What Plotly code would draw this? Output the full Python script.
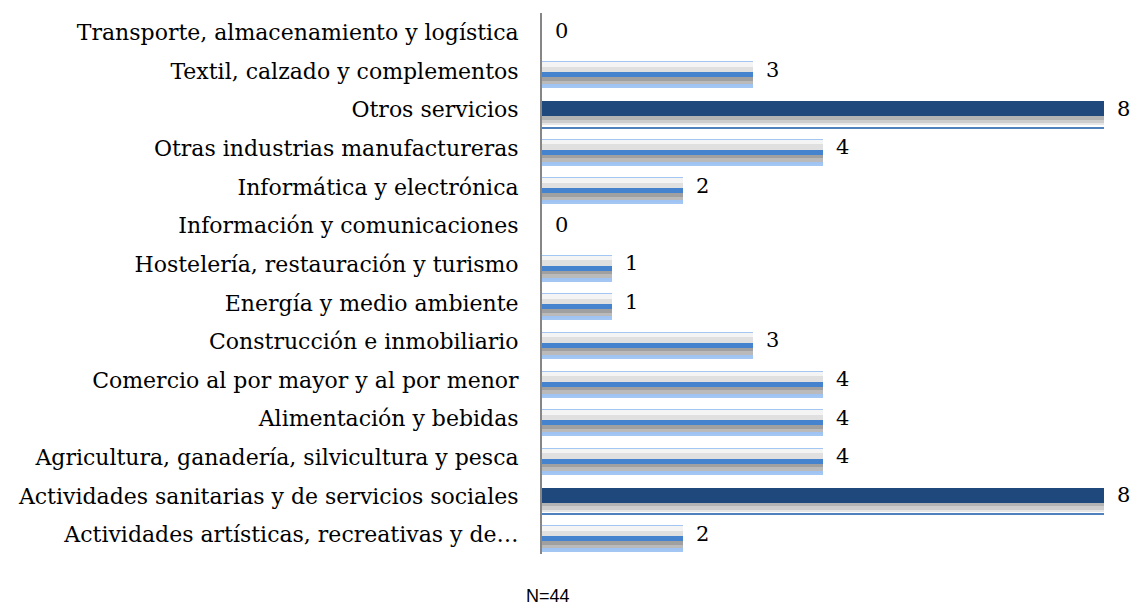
import plotly.graph_objects as go

categories = [
    "Transporte, almacenamiento y logística",
    "Textil, calzado y complementos",
    "Otros servicios",
    "Otras industrias manufactureras",
    "Informática y electrónica",
    "Información y comunicaciones",
    "Hostelería, restauración y turismo",
    "Energía y medio ambiente",
    "Construcción e inmobiliario",
    "Comercio al por mayor y al por menor",
    "Alimentación y bebidas",
    "Agricultura, ganadería, silvicultura y pesca",
    "Actividades sanitarias y de servicios sociales",
    "Actividades artísticas, recreativas y de…",
]
values = [0, 3, 8, 4, 2, 0, 1, 1, 3, 4, 4, 4, 8, 2]
highlighted = [False, False, True, False, False, False, False, False, False, False, False, False, True, False]
note_text = "N=44"

W, H = 1131, 609
M_L, M_R, M_T, M_B = 542, 10, 13, 55
ROW_PX = (H - M_T - M_B) / len(categories)  # pixel height of one category row


def u(px):
    return px / ROW_PX


# layers: (top_px, bottom_px, normal colour, highlighted colour), relative to row centre
layers = [
    (-9.5, 17.5, "#A3C6F2", "rgba(0,0,0,0)"),
    (-8.5, -4, "#F4F4F4", "#1F497D"),
    (-4, 1.5, "#E0E0E0", "#1F497D"),
    (1.5, 6.5, "#4683CF", "#1F497D"),
    (6.5, 10, "#A0A0A0", "#B3B3B3"),
    (10, 13.5, "#BABABA", "#CDCDCD"),
    (13.5, 15.5, "#9FC3F3", "#E6E6E6"),
    (17.5, 18.5, "rgba(0,0,0,0)", "#4F81BD"),
]

fig = go.Figure()
for top, bottom, c_norm, c_hi in layers:
    colors = [c_hi if h else c_norm for h in highlighted]
    fig.add_trace(go.Bar(
        x=values,
        y=categories,
        orientation="h",
        width=u(bottom - top),
        offset=u(top),
        marker=dict(color=colors, line=dict(width=0)),
        hoverinfo="skip",
        showlegend=False,
    ))

for cat, val in zip(categories, values):
    fig.add_annotation(
        x=val, y=cat, xref="x", yref="y",
        text=str(val), showarrow=False,
        xanchor="left", xshift=11, yshift=1,
        font=dict(family="DejaVu Serif", size=21, color="#000000"),
    )

plot_w = W - M_L - M_R
plot_h = H - M_T - M_B
fig.add_annotation(
    x=(548 - M_L) / plot_w, y=-(596 - (H - M_B)) / plot_h,
    xref="paper", yref="paper",
    xanchor="center", yanchor="middle",
    text=note_text, showarrow=False,
    font=dict(family="Liberation Sans", size=18, color="#000000"),
)

fig.update_layout(
    width=W,
    height=H,
    barmode="overlay",
    bargap=0,
    plot_bgcolor="#FFFFFF",
    paper_bgcolor="#FFFFFF",
    margin=dict(l=M_L, r=M_R, t=M_T, b=M_B),
    showlegend=False,
)
fig.update_xaxes(range=[0, plot_w / 70.3], visible=False, showgrid=False, zeroline=False)
fig.update_yaxes(
    type="category",
    categoryorder="array",
    categoryarray=categories,
    autorange="reversed",
    showline=True,
    linecolor="#868686",
    linewidth=2,
    showgrid=False,
    zeroline=False,
    ticks="",
    ticklabelstandoff=17,
    tickfont=dict(family="DejaVu Serif", size=22, color="#000000"),
)

fig.write_html(
    "out.html",
    config={"displayModeBar": False},
    post_script="document.body.style.margin='0';document.body.style.padding='0';",
)
